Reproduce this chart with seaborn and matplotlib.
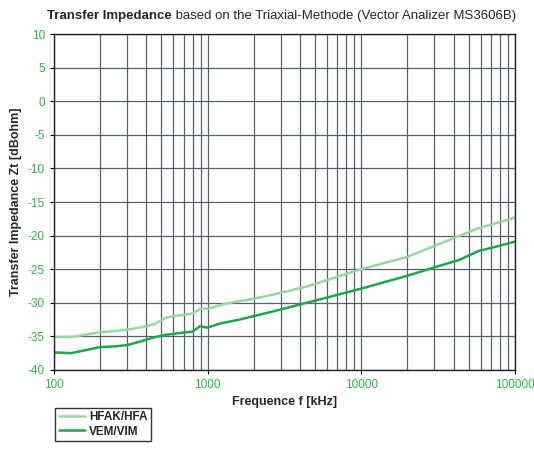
import numpy as np
import pandas as pd
import seaborn as sns
import matplotlib.pyplot as plt
from matplotlib.ticker import FixedLocator, FixedFormatter, NullFormatter

# --- datos ---
freq_hfak = [100, 130, 155, 200, 250, 300, 362, 450, 540, 600, 800, 900, 1000,
             1330, 2000, 2660, 4400, 10000, 19800, 39700, 58000, 80000, 100000]
zt_hfak = [-35.1, -35.1, -34.8, -34.4, -34.2, -34.0, -33.7, -33.2, -32.2, -32.0,
           -31.6, -30.9, -30.9, -30.1, -29.4, -28.8, -27.6, -25.0, -23.2,
           -20.4, -18.9, -18.0, -17.3]

freq_vem = [100, 130, 200, 250, 300, 362, 440, 540, 730, 800, 890, 1000, 1100,
            1200, 1620, 2660, 5380, 10000, 19800, 29300, 43700, 58000, 80000,
            100000]
zt_vem = [-37.4, -37.5, -36.6, -36.5, -36.3, -35.8, -35.2, -34.75, -34.4,
          -34.3, -33.5, -33.7, -33.4, -33.1, -32.5, -31.3, -29.5, -27.9,
          -26.0, -24.8, -23.6, -22.3, -21.5, -20.9]

series_names = ["HFAK/HFA", "VEM/VIM"]
series_colors = ["#98d6a4", "#1fa64a"]
x_ticks = [100, 1000, 10000, 100000]
x_ticklabels = ["100", "1000", "10000", "100000"]
y_ticks = list(range(-40, 11, 5))

df = pd.concat([
    pd.DataFrame({"f": freq_hfak, "zt": zt_hfak, "serie": series_names[0]}),
    pd.DataFrame({"f": freq_vem, "zt": zt_vem, "serie": series_names[1]}),
], ignore_index=True)

# --- estilo ---
sns.set_style("white")
plt.rcParams["font.family"] = ["Liberation Sans", "DejaVu Sans"]
plt.rcParams["axes.unicode_minus"] = False

fig = plt.figure(figsize=(5.34, 4.5), dpi=100)
ax = fig.add_axes([0.101, 0.178, 0.863, 0.746])

sns.lineplot(data=df, x="f", y="zt", hue="serie", hue_order=series_names,
             palette=series_colors, linewidth=1.8, ax=ax, legend=False,
             estimator=None, sort=True)

ax.set_xscale("log")
ax.set_xlim(100, 100000)
ax.set_ylim(-40, 10)
ax.xaxis.set_major_locator(FixedLocator(x_ticks))
ax.xaxis.set_major_formatter(FixedFormatter(x_ticklabels))
ax.xaxis.set_minor_formatter(NullFormatter())
ax.set_yticks(y_ticks)
ax.tick_params(axis="both", which="both", colors="black", labelcolor="#2db34a",
               labelsize=8.5, length=3, direction="out")
ax.tick_params(axis="x", which="minor", length=0)
ax.tick_params(left=True, bottom=True)

ax.grid(True, which="both", color="#56616c", linewidth=0.9)
for sp in ax.spines.values():
    sp.set_color("#222222")
    sp.set_linewidth(1.0)

ax.set_xlabel("Frequence f [kHz]", fontsize=9, fontweight="bold", labelpad=4)
ax.set_ylabel("Transfer Impedance Zt [dBohm]", fontsize=9, fontweight="bold", labelpad=4)

# titulo en dos partes (negrita + normal)
t1 = fig.text(0.088, 0.957, "Transfer Impedance", fontsize=9.5, fontweight="bold",
              ha="left", va="baseline")
ax.annotate(" based on the Triaxial-Methode (Vector Analizer MS3606B)",
            xy=(1, 0), xycoords=t1, fontsize=9.5, ha="left", va="bottom")

handles = [plt.Line2D([], [], color=c, linewidth=1.8, label=n)
           for c, n in zip(series_colors, series_names)]
leg = fig.legend(handles=handles, loc="upper left", bbox_to_anchor=(0.103, 0.094),
                 borderaxespad=0, frameon=True, fancybox=False, fontsize=8.5,
                 handlelength=2.2, borderpad=0.3, labelspacing=0.2,
                 handletextpad=0.4)
leg.get_frame().set_edgecolor("black")
leg.get_frame().set_linewidth(1.0)
for txt in leg.get_texts():
    txt.set_fontweight("bold")

fig.savefig("out.png", dpi=100)
